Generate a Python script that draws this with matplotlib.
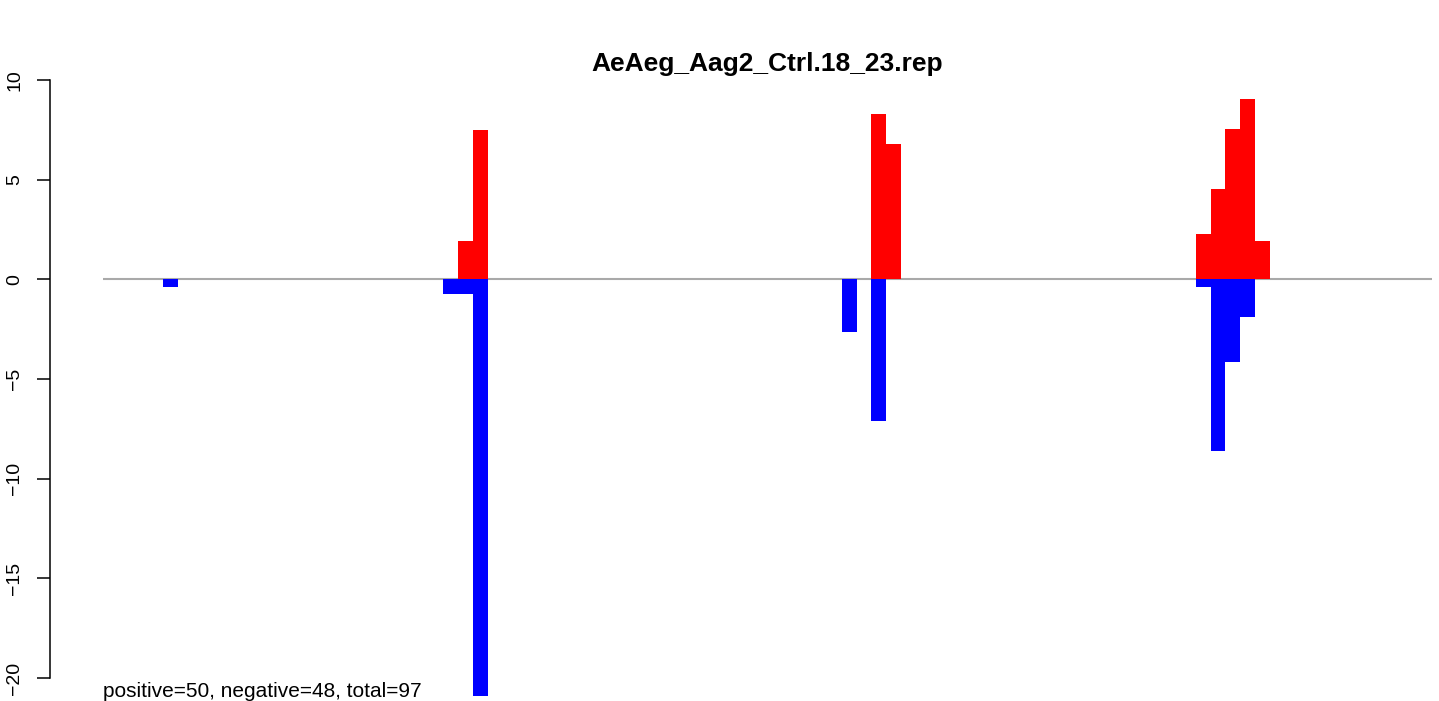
import matplotlib
matplotlib.use('Agg')
import matplotlib.pyplot as plt

plt.rcParams['font.family'] = ['Liberation Sans', 'DejaVu Sans']

# Bar positions (one unit per bar) and values
pos_x = [20, 21, 48, 49, 70, 71, 72, 73, 74]
pos_y = [1.9, 7.5, 8.27, 6.77, 2.26, 4.51, 7.52, 9.02, 1.9]
neg_x = [0, 19, 20, 21, 46, 48, 70, 71, 72, 73]
neg_y = [-0.38, -0.75, -0.75, -20.9, -2.64, -7.12, -0.38, -8.62, -4.14, -1.89]

title = 'AeAeg_Aag2_Ctrl.18_23.rep'
note = 'positive=50, negative=48, total=97'
yticks = [-20, -15, -10, -5, 0, 5, 10]

W, H = 1439, 701
fig = plt.figure(figsize=(W / 100, H / 100), dpi=100)
ax = fig.add_axes([103 / W, 0, 1329 / W, (H - 60) / H])

ax.bar(pos_x, pos_y, width=1, align='edge', color='#ff0000', linewidth=0, clip_on=False)
ax.bar(neg_x, neg_y, width=1, align='edge', color='#0000ff', linewidth=0, clip_on=False)
ax.axhline(0, color='#a9a9a9', linewidth=1.5, zorder=0)

ax.set_xlim(-4.07, 86.0)
ax.set_ylim(-21.15, 11.0)

for s in ['top', 'right', 'bottom']:
    ax.spines[s].set_visible(False)
ax.spines['left'].set_position(('outward', 38))
ax.spines['left'].set_bounds(-20, 10)
ax.spines['left'].set_linewidth(1.1)
ax.set_xticks([])
ax.set_yticks(yticks)
ax.set_yticklabels([str(t).replace('-', '\u2212') for t in yticks], rotation=90,
                   va='center', fontsize=14)
ax.tick_params(axis='y', length=9.4, width=1.1, pad=10)

fig.text((103 + 1432) / 2 / W, 1 - 64 / H, title, ha='center', va='center',
         fontsize=19, fontweight='bold')
fig.text(103 / W, 1 - 697 / H, note, ha='left', va='baseline', fontsize=15)

fig.savefig('out.png', dpi=100)
